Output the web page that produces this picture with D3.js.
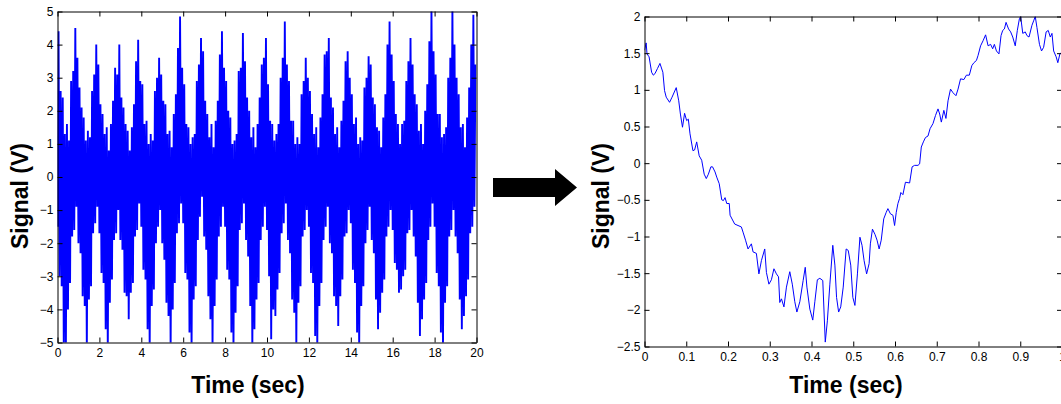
<!DOCTYPE html>
<html>
<head>
<meta charset="utf-8">
<script src="https://cdn.jsdelivr.net/npm/d3@7"></script>
<style>
  body { margin: 0; background: #fff; }
  svg { display: block; font-family: "Liberation Sans", Arial, sans-serif; }
  .tick text { font-size: 12px; fill: #000; }
  .domain, .tick line { stroke: #000; }
  .label { font-weight: bold; font-size: 23px; fill: #000; }
</style>
</head>
<body>
<svg id="chart"></svg>
<script>
// full record, 0-20 s: upper and lower swing of the signal in each 0.1 s slot
const fullHigh = [
  4.4, 2.6, 2.4, 1.3, 1.6, 1.1, 2.9, 3.2, 4.5, 3.6,
  2.7, 2.1, 1.8, 1.1, 1.4, 1.2, 2.6, 3.1, 4.0, 3.4,
  2.2, 1.9, 1.3, 1.5, 0.8, 1.6, 2.3, 3.3, 3.1, 4.0,
  2.4, 2.1, 1.6, 1.4, 0.8, 1.5, 2.2, 3.5, 4.15, 2.9,
  2.8, 1.6, 1.7, 1.0, 1.3, 1.1, 2.6, 3.0, 3.6, 3.1,
  2.3, 2.2, 1.3, 1.4, 0.9, 1.9, 2.5, 3.9, 4.85, 3.3,
  2.8, 1.6, 1.5, 1.0, 1.2, 1.3, 2.9, 3.4, 4.2, 3.8,
  2.3, 1.9, 1.2, 1.6, 0.9, 1.7, 2.3, 3.7, 4.4, 3.3,
  2.9, 2.0, 1.8, 1.0, 1.1, 1.3, 3.2, 3.3, 4.35, 3.5,
  2.4, 2.0, 1.2, 1.5, 0.9, 1.6, 2.4, 3.4, 3.6, 4.2,
  2.8, 1.7, 1.6, 1.1, 1.3, 1.6, 3.0, 3.6, 4.7, 3.4,
  2.9, 1.7, 1.7, 1.0, 1.2, 1.0, 2.5, 2.9, 3.6, 3.0,
  2.6, 1.9, 1.3, 1.5, 0.9, 1.8, 2.5, 3.7, 3.8, 4.2,
  2.4, 2.1, 1.3, 1.5, 0.9, 1.7, 2.3, 3.5, 3.8, 3.0,
  2.5, 1.6, 1.8, 1.0, 1.2, 1.1, 2.7, 3.0, 3.65, 3.4,
  2.4, 2.2, 1.5, 1.4, 0.9, 1.8, 2.5, 4.0, 4.7, 3.7,
  2.9, 1.9, 1.6, 1.0, 1.6, 1.7, 2.9, 3.5, 4.2, 3.4,
  2.5, 2.2, 1.4, 1.6, 1.0, 2.0, 2.8, 4.1, 5.1, 3.8,
  3.1, 1.9, 1.9, 1.2, 1.3, 1.5, 3.0, 3.6, 5.1, 4.0,
  3.0, 2.5, 1.5, 1.6, 0.9, 1.8, 2.7, 4.0, 4.9, 3.4
];
const fullLow = [
  -1.5, -3.0, -3.3, -5.2, -5.2, -4.0, -3.2, -1.8, -1.6, -0.9,
  -2.0, -2.3, -3.6, -3.9, -5.2, -3.7, -3.3, -1.7, -1.4, -0.9,
  -1.7, -2.9, -3.2, -4.6, -5.2, -3.8, -3.1, -1.9, -1.7, -1.0,
  -1.9, -2.2, -3.5, -3.6, -4.3, -3.5, -3.2, -1.8, -1.6, -0.8,
  -1.5, -2.8, -3.1, -4.6, -5.2, -3.9, -3.4, -2.0, -1.5, -1.0,
  -2.0, -2.5, -3.8, -4.2, -5.2, -4.0, -3.2, -1.7, -1.4, -0.8,
  -1.4, -2.9, -3.1, -4.7, -5.2, -3.7, -3.3, -1.9, -1.2, -0.6,
  -1.8, -2.2, -3.6, -4.3, -5.2, -3.9, -3.1, -1.8, -1.5, -0.9,
  -1.5, -2.8, -3.1, -4.7, -5.2, -4.1, -3.3, -1.6, -1.4, -0.8,
  -1.9, -2.4, -3.9, -5.2, -4.6, -3.7, -3.2, -1.9, -1.5, -0.9,
  -1.6, -3.0, -4.9, -4.0, -4.2, -3.4, -2.9, -1.7, -1.4, -0.8,
  -1.9, -2.3, -3.7, -4.1, -5.2, -3.8, -3.3, -1.8, -1.6, -1.0,
  -1.5, -2.9, -3.2, -4.8, -5.2, -3.9, -3.2, -1.9, -1.5, -0.9,
  -2.0, -2.3, -3.6, -3.9, -4.5, -3.6, -3.1, -1.8, -1.7, -1.0,
  -1.4, -2.8, -3.2, -4.7, -5.2, -3.9, -3.3, -2.0, -1.6, -0.9,
  -1.9, -2.3, -3.7, -4.6, -4.1, -3.5, -3.1, -1.8, -1.5, -1.0,
  -1.6, -2.6, -2.8, -3.5, -3.4, -3.0, -2.8, -1.7, -1.6, -1.0,
  -1.8, -2.4, -3.8, -4.8, -4.3, -3.7, -3.2, -1.9, -1.5, -0.8,
  -1.5, -2.9, -3.3, -4.7, -5.2, -3.8, -3.3, -1.8, -1.6, -1.0,
  -1.8, -2.3, -3.7, -4.6, -4.2, -3.6, -3.1, -1.7, -1.5, -0.9
];
const fullStep = 0.1;
const fullTicksX = [0, 2, 4, 6, 8, 10, 12, 14, 16, 18, 20];
const fullTicksY = [-5, -4, -3, -2, -1, 0, 1, 2, 3, 4, 5];

// zoomed window, first second
const zoomTime = [
  0.000, 0.004, 0.006, 0.011, 0.017, 0.021, 0.025, 0.031, 0.037, 0.044,
  0.048, 0.052, 0.060, 0.066, 0.076, 0.082, 0.086, 0.091, 0.096, 0.101,
  0.105, 0.109, 0.116, 0.120, 0.125, 0.131, 0.137, 0.143, 0.148, 0.153,
  0.159, 0.163, 0.169, 0.173, 0.179, 0.185, 0.189, 0.193, 0.197, 0.203,
  0.205, 0.216, 0.224, 0.232, 0.236, 0.242, 0.248, 0.256, 0.260, 0.268,
  0.274, 0.280, 0.288, 0.292, 0.298, 0.304, 0.310, 0.316, 0.321, 0.324,
  0.328, 0.334, 0.340, 0.348, 0.354, 0.360, 0.365, 0.372, 0.380, 0.385,
  0.389, 0.396, 0.403, 0.408, 0.414, 0.420, 0.427, 0.433, 0.438, 0.444,
  0.451, 0.456, 0.460, 0.465, 0.470, 0.476, 0.483, 0.488, 0.494, 0.499,
  0.504, 0.510, 0.516, 0.521, 0.526, 0.532, 0.538, 0.541, 0.546, 0.552,
  0.557, 0.562, 0.567, 0.573, 0.579, 0.583, 0.589, 0.595, 0.599, 0.603,
  0.607, 0.611, 0.614, 0.619, 0.625, 0.635, 0.641, 0.647, 0.655, 0.659,
  0.663, 0.668, 0.673, 0.679, 0.684, 0.691, 0.697, 0.703, 0.707, 0.711,
  0.717, 0.722, 0.727, 0.733, 0.739, 0.746, 0.751, 0.757, 0.765, 0.771,
  0.778, 0.784, 0.789, 0.795, 0.799, 0.805, 0.811, 0.817, 0.823, 0.829,
  0.834, 0.838, 0.843, 0.849, 0.854, 0.858, 0.862, 0.866, 0.872, 0.877,
  0.882, 0.888, 0.893, 0.898, 0.901, 0.906, 0.912, 0.916, 0.921, 0.928,
  0.932, 0.936, 0.940, 0.946, 0.951, 0.956, 0.962, 0.967, 0.972, 0.976,
  0.980, 0.986, 0.990, 0.995, 0.999
];
const zoomSignal = [
  1.54, 1.64, 1.49, 1.45, 1.24, 1.20, 1.22, 1.29, 1.36, 1.24,
  0.99, 0.90, 0.83, 0.90, 1.03, 0.85, 0.67, 0.49, 0.68, 0.58,
  0.60, 0.40, 0.17, 0.18, 0.29, 0.10, 0.04, -0.15, -0.21, -0.15,
  -0.05, -0.05, -0.12, -0.19, -0.28, -0.50, -0.51, -0.47, -0.55, -0.55,
  -0.71, -0.83, -0.85, -0.87, -0.94, -1.05, -1.17, -1.10, -1.21, -1.23,
  -1.51, -1.33, -1.17, -1.49, -1.65, -1.59, -1.44, -1.51, -1.55, -1.90,
  -1.85, -1.96, -1.69, -1.48, -1.65, -1.89, -2.03, -1.89, -1.60, -1.42,
  -1.69, -1.99, -2.14, -1.89, -1.59, -1.57, -1.60, -2.44, -2.15, -1.65,
  -1.12, -1.39, -1.83, -2.03, -1.96, -1.69, -1.17, -1.19, -1.39, -1.83,
  -1.94, -1.51, -1.01, -1.12, -1.33, -1.51, -1.37, -1.10, -0.90, -0.97,
  -1.05, -1.17, -1.05, -0.76, -0.67, -0.62, -0.69, -0.71, -0.85, -0.67,
  -0.55, -0.48, -0.40, -0.43, -0.26, -0.27, -0.05, -0.03, -0.03, -0.01,
  0.22, 0.29, 0.35, 0.37, 0.47, 0.54, 0.65, 0.74, 0.67, 0.56,
  0.72, 0.61, 0.85, 1.01, 0.96, 0.92, 1.01, 1.15, 1.14, 1.20,
  1.20, 1.33, 1.37, 1.40, 1.47, 1.60, 1.67, 1.75, 1.60, 1.62,
  1.56, 1.62, 1.53, 1.49, 1.74, 1.81, 1.83, 1.92, 1.83, 1.79,
  1.72, 1.60, 1.81, 1.97, 2.00, 1.77, 1.79, 1.74, 1.72, 1.88,
  1.94, 2.00, 1.85, 1.62, 1.53, 1.58, 1.79, 1.81, 1.72, 1.77,
  1.53, 1.45, 1.37, 1.49, 1.51
];
const zoomTicksX = [0, 0.1, 0.2, 0.3, 0.4, 0.5, 0.6, 0.7, 0.8, 0.9, 1];
const zoomTicksY = [-2.5, -2, -1.5, -1, -0.5, 0, 0.5, 1, 1.5, 2];

const width = 1061;
const height = 404;

const svg = d3.select("#chart")
  .attr("width", width)
  .attr("height", height);

svg.append("rect").attr("width", width).attr("height", height).attr("fill", "#fff");

function drawPanel(opts) {
  const { box, xDomain, yDomain, xTicks, yTicks, points, name, strokeWidth, xLabel, yLabel } = opts;

  const x = d3.scaleLinear().domain(xDomain).range([box.left, box.right]);
  const y = d3.scaleLinear().domain(yDomain).range([box.bottom, box.top]);

  svg.append("clipPath")
    .attr("id", "clip-" + name)
    .append("rect")
    .attr("x", box.left)
    .attr("y", box.top)
    .attr("width", box.right - box.left)
    .attr("height", box.bottom - box.top);

  const line = d3.line()
    .x(d => x(d[0]))
    .y(d => y(d[1]));

  svg.append("path")
    .datum(points)
    .attr("clip-path", `url(#clip-${name})`)
    .attr("fill", "none")
    .attr("stroke", "#0000ff")
    .attr("stroke-width", strokeWidth)
    .attr("stroke-linejoin", "miter")
    .attr("d", line);

  // MATLAB style box with inward ticks on every side
  svg.append("g")
    .attr("transform", `translate(0,${box.bottom})`)
    .call(d3.axisBottom(x).tickValues(xTicks).tickFormat(d3.format("")).tickSizeInner(-5).tickSizeOuter(0).tickPadding(6));

  svg.append("g")
    .attr("transform", `translate(0,${box.top})`)
    .call(d3.axisTop(x).tickValues(xTicks).tickFormat("").tickSizeInner(-5).tickSizeOuter(0));

  svg.append("g")
    .attr("transform", `translate(${box.left},0)`)
    .call(d3.axisLeft(y).tickValues(yTicks).tickFormat(d3.format("")).tickSizeInner(-5).tickSizeOuter(0).tickPadding(4));

  svg.append("g")
    .attr("transform", `translate(${box.right},0)`)
    .call(d3.axisRight(y).tickValues(yTicks).tickFormat("").tickSizeInner(-5).tickSizeOuter(0));

  svg.append("text")
    .attr("class", "label")
    .attr("x", xLabel[0])
    .attr("y", xLabel[1])
    .attr("text-anchor", "middle")
    .text("Time (sec)");

  svg.append("text")
    .attr("class", "label")
    .attr("transform", `translate(${yLabel[0]},${yLabel[1]}) rotate(-90)`)
    .attr("text-anchor", "middle")
    .attr("dy", "0.35em")
    .text("Signal (V)");
}

// zig-zag between the lower and upper swing of each slot
const fullPoints = [];
fullHigh.forEach((h, i) => {
  fullPoints.push([i * fullStep, fullLow[i]]);
  fullPoints.push([i * fullStep + fullStep / 2, h]);
});

drawPanel({
  name: "full",
  box: { left: 57.5, right: 476.5, top: 11.5, bottom: 342.5 },
  xDomain: [0, 20],
  yDomain: [-5, 5],
  xTicks: fullTicksX,
  yTicks: fullTicksY,
  points: fullPoints,
  strokeWidth: 1.9,
  xLabel: [248, 393],
  yLabel: [20, 196]
});

drawPanel({
  name: "zoom",
  box: { left: 644.5, right: 1062, top: 16.5, bottom: 346.5 },
  xDomain: [0, 1],
  yDomain: [-2.5, 2],
  xTicks: zoomTicksX,
  yTicks: zoomTicksY,
  points: zoomTime.map((t, i) => [t, zoomSignal[i]]),
  strokeWidth: 1,
  xLabel: [846, 393],
  yLabel: [601, 196]
});

// arrow between the panels
const arrow = { x0: 493, x1: 555, tip: 577, cy: 187.5, shaft: 9.5, head: 18.5 };
svg.append("path")
  .attr("fill", "#000")
  .attr("d", `M${arrow.x0},${arrow.cy - arrow.shaft}H${arrow.x1}V${arrow.cy - arrow.head}` +
             `L${arrow.tip},${arrow.cy}L${arrow.x1},${arrow.cy + arrow.head}V${arrow.cy + arrow.shaft}H${arrow.x0}Z`);
</script>
</body>
</html>
